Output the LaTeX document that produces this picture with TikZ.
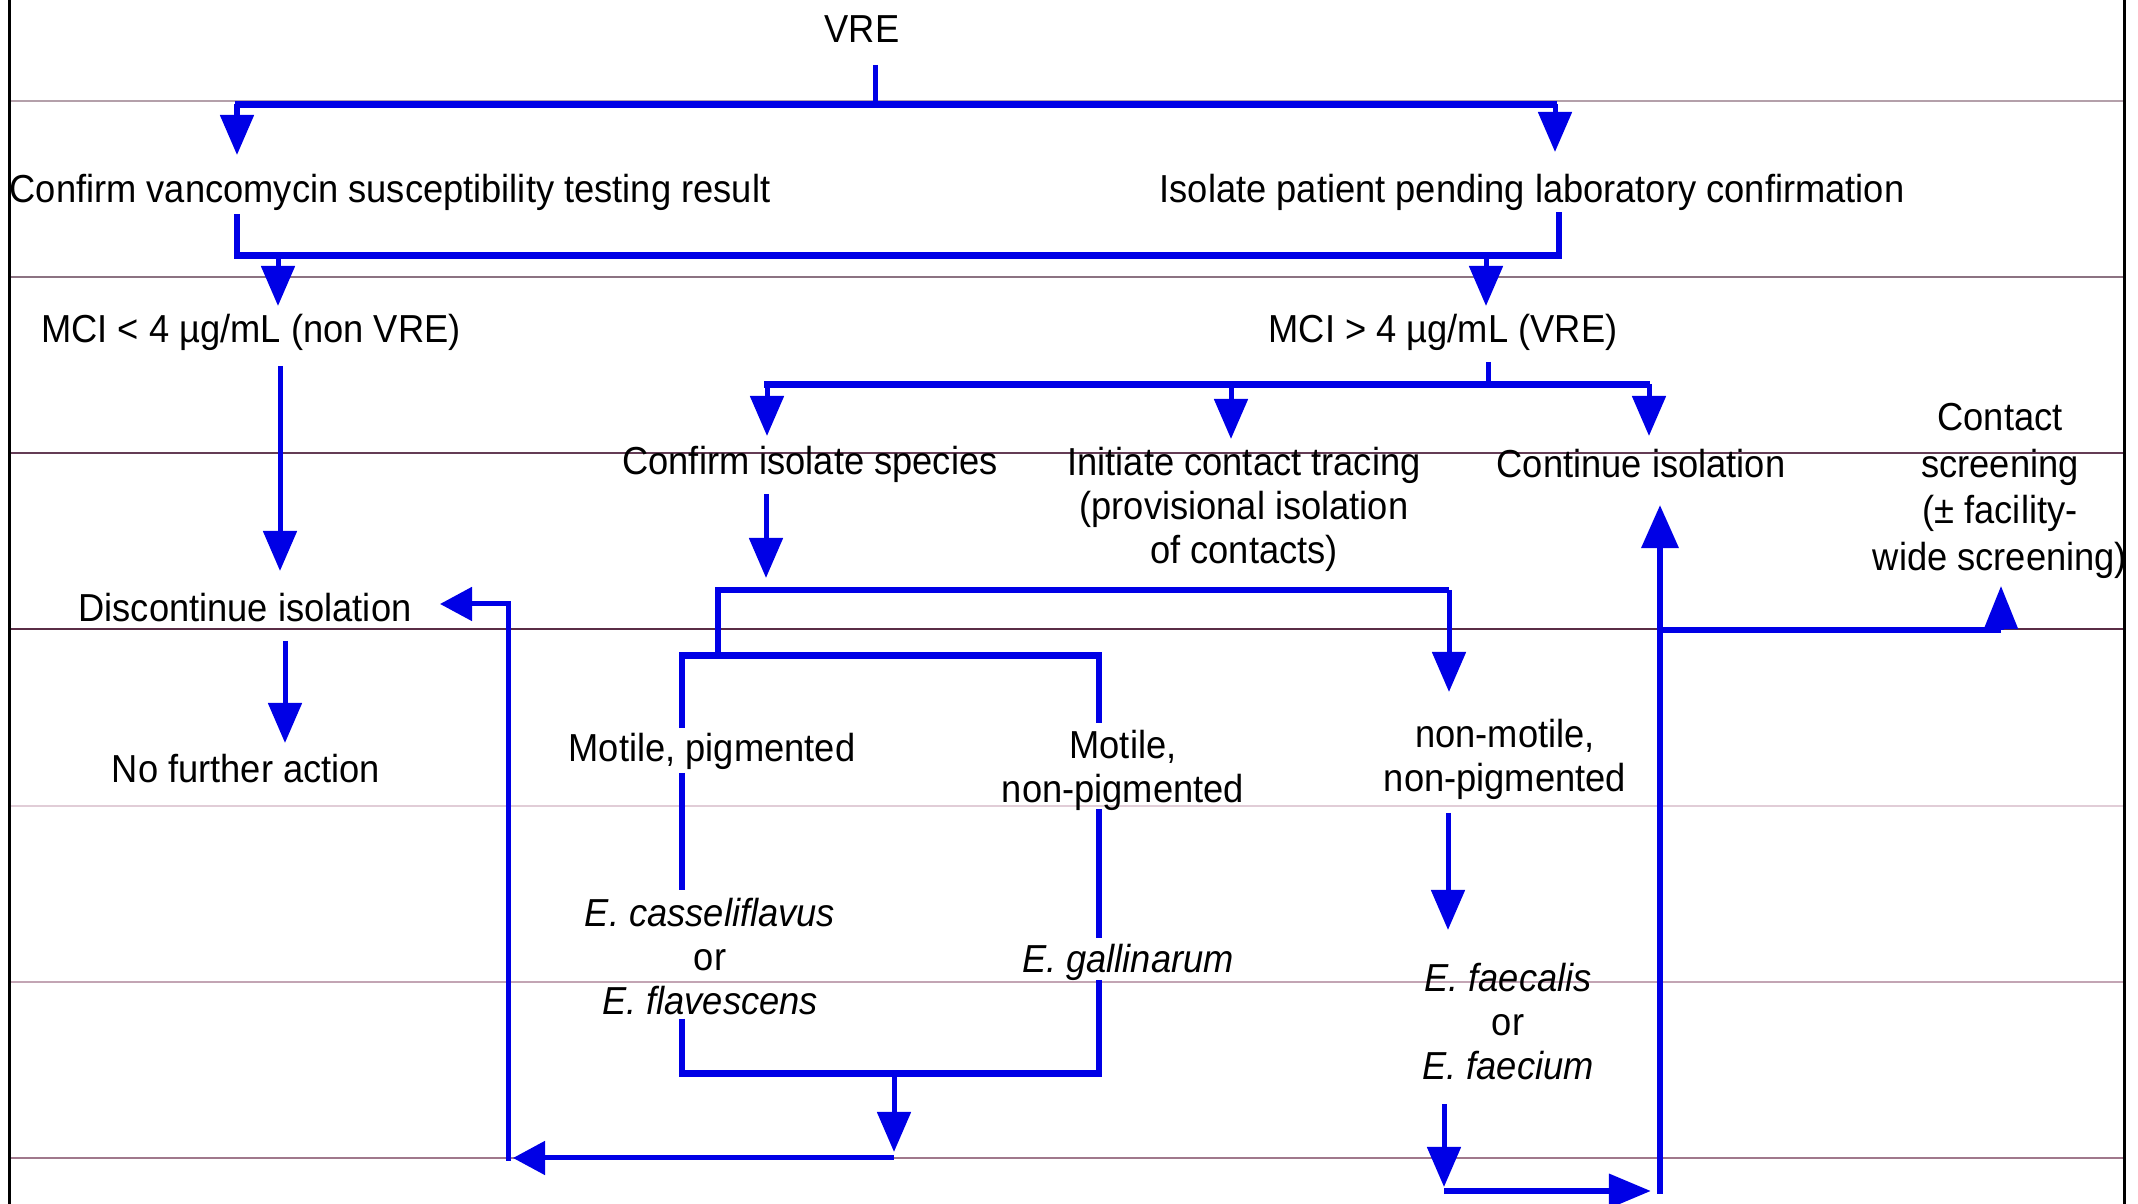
\documentclass[tikz,border=0pt]{standalone}
\usepackage{fontspec}
\setmainfont{Liberation Sans}[FakeStretch=0.93]
\usetikzlibrary{arrows.meta}
\definecolor{vblue}{RGB}{0,0,230}
\definecolor{ga}{RGB}{180,160,170}
\definecolor{gb}{RGB}{140,115,130}
\definecolor{gc}{RGB}{100,60,85}
\definecolor{gd}{RGB}{90,45,70}
\definecolor{ge}{RGB}{225,205,215}
\definecolor{gf}{RGB}{195,165,180}
\definecolor{gg}{RGB}{160,120,140}
\begin{document}
\begin{tikzpicture}[x=0.01cm,y=-0.01cm,
  txt/.style={inner sep=0pt, font=\fontsize{11.1pt}{12.5pt}\selectfont, align=center},
  conn/.style={vblue, line width=0.066cm},
  stem/.style={vblue, line width=0.05cm},
  arr/.style={stem, -{Triangle[length=0.4cm,width=0.33cm]}},
  sarr/.style={stem, -{Triangle[length=0.32cm,width=0.33cm]}},
  rule/.style={line width=0.015cm}]
\useasboundingbox (0,0) rectangle (2138,1204);
% background rules
\foreach \yy/\cc in {101/ga,277/gb,453/gc,629/gd,806/ge,982/gf,1158/gg}
  \draw[rule,\cc] (10,\yy) -- (2124,\yy);
% frame
\draw[black, line width=0.03cm] (9.5,0) -- (9.5,1204);
\draw[black, line width=0.03cm] (2124,0) -- (2124,1204);

% texts
\node[txt, anchor=base] (vre) at (862,43) {VRE};
\node[txt, anchor=base] (confirm) at (390,203) {Confirm vancomycin susceptibility testing result};
\node[txt, anchor=base] (isolate) at (1532,203) {Isolate patient pending laboratory confirmation};
\node[txt, anchor=base] (mcilow) at (251,343) {MCI < 4 µg/mL (non VRE)};
\node[txt, anchor=base] (mcihigh) at (1443,343) {MCI > 4 µg/mL (VRE)};
\node[txt, anchor=base] (species) at (810,475) {Confirm isolate species};
\node[txt] (tracing) at (1244,509) {Initiate contact tracing\\(provisional isolation\\of contacts)};
\node[txt, anchor=base] (contiso) at (1641,478) {Continue isolation};
\node[txt, font=\fontsize{11.1pt}{13.3pt}\selectfont] (screen) at (2000,491) {Contact\\screening\\(± facility-\\wide screening)};
\node[txt, anchor=base] (discont) at (245,622) {Discontinue isolation};
\node[txt, anchor=base] (nofurther) at (246,783) {No further action};
\node[txt, anchor=base] (motpig) at (712,762) {Motile, pigmented};
\node[txt] (motnonpig) at (1123,770) {Motile,\\non-pigmented};
\node[txt] (nonmot) at (1505,759) {non-motile,\\non-pigmented};
\node[txt] (cassel) at (710,957) {\textit{E. casseliflavus}\\or\\\textit{E. flavescens}};
\node[txt, anchor=base] (gall) at (1128,973) {\textit{E. gallinarum}};
\node[txt] (faec) at (1508,1022) {\textit{E. faecalis}\\or\\\textit{E. faecium}};

% named connector points
\coordinate (vreS) at (875,65);
\coordinate (barA) at (875,104.5);
\coordinate (barAL) at (235,104.5);
\coordinate (barAR) at (1557,104.5);
\coordinate (tipConfirm) at (237,155);
\coordinate (tipIsolate) at (1555,152);
\coordinate (confS) at (237,214);
\coordinate (isoS) at (1559,212);
\coordinate (barBL) at (237,255.5);
\coordinate (barBR) at (1559,255.5);
\coordinate (tipLow) at (278,306);
\coordinate (tipHigh) at (1486,306);
\coordinate (highS) at (1488,362);
\coordinate (barC) at (1488,384.5);
\coordinate (barCL) at (764,384.5);
\coordinate (barCR) at (1650,384.5);
\coordinate (tipSpecies) at (767,436);
\coordinate (tipTracing) at (1231,439);
\coordinate (tipCont) at (1649,436);
\coordinate (lowS) at (280,366);
\coordinate (tipDisc) at (280,571);
\coordinate (discS) at (285,641);
\coordinate (tipNoFur) at (285,743);
\coordinate (specS) at (766,494);
\coordinate (tipBar) at (766,578);
\coordinate (barDL) at (718,590);
\coordinate (barDR) at (1449,590);
\coordinate (tipNonMot) at (1449,692);
\coordinate (barEL) at (682,655.5);
\coordinate (barER) at (1099,655.5);
\coordinate (barEM) at (718,655.5);
\coordinate (mpA) at (682,728);
\coordinate (mnA) at (1099,723);
\coordinate (mpB) at (682,773);
\coordinate (mpC) at (682,890);
\coordinate (mpD) at (682,1019);
\coordinate (mnB) at (1099,809);
\coordinate (mnC) at (1099,938);
\coordinate (mnD) at (1099,980);
\coordinate (barFL) at (682,1073.5);
\coordinate (barFR) at (1099,1073.5);
\coordinate (barFM) at (894,1077);
\coordinate (tipF) at (894,1152);
\coordinate (retR) at (894,1158);
\coordinate (retTip) at (513,1158);
\coordinate (retBot) at (508,1161);
\coordinate (retCorner) at (508,604);
\coordinate (tipDiscR) at (440,604);
\coordinate (nmS) at (1448,813);
\coordinate (tipFaec) at (1448,930);
\coordinate (faecS) at (1444,1104);
\coordinate (tipFaecB) at (1444,1187);
\coordinate (gL) at (1444,1191);
\coordinate (gTip) at (1651,1191);
\coordinate (upBot) at (1660,1194);
\coordinate (tipUp) at (1660,505);
\coordinate (scrL) at (1660,630);
\coordinate (scrR) at (2001,630);
\coordinate (tipScr) at (2001,586);

% connectors
\draw[stem] (vreS) -- (barA);
\draw[conn] (barAL) -- (barAR);
\draw[arr] (barAL -| tipConfirm) -- (tipConfirm);
\draw[arr] (barAR -| tipIsolate) -- (tipIsolate);
\draw[conn] (confS) -- (barBL) -- (barBR) -- (isoS);
\draw[arr] (barBL -| tipLow) -- (tipLow);
\draw[arr] (barBL -| tipHigh) -- (tipHigh);
\draw[stem] (highS) -- (barC);
\draw[conn] (barCL) -- (barCR);
\draw[arr] (barCL -| tipSpecies) -- (tipSpecies);
\draw[arr] (barCL -| tipTracing) -- (tipTracing);
\draw[arr] (barCL -| tipCont) -- (tipCont);
\draw[arr] (lowS) -- (tipDisc);
\draw[arr] (discS) -- (tipNoFur);
\draw[arr] (specS) -- (tipBar);
\draw[conn] (barEM) -- (barDL) -- (barDR);
\draw[arr] (barDR) -- (tipNonMot);
\draw[conn] (mpA) -- (barEL) -- (barER) -- (mnA);
\draw[conn] (mpB) -- (mpC);
\draw[conn] (mnB) -- (mnC);
\draw[conn] (mpD) -- (barFL) -- (barFR) -- (mnD);
\draw[arr] (barFM) -- (tipF);
\draw[sarr] (retR) -- (retTip);
\draw[sarr] (retBot) -- (retCorner) -- (tipDiscR);
\draw[arr] (nmS) -- (tipFaec);
\draw[arr] (faecS) -- (tipFaecB);
\draw[conn, -{Triangle[length=0.42cm,width=0.33cm]}] (gL) -- (gTip);
\draw[conn, -{Triangle[length=0.43cm,width=0.36cm]}] (upBot) -- (tipUp);
\draw[conn] (scrL) -- (scrR);
\draw[stem, -{Triangle[length=0.43cm,width=0.33cm]}] (scrR) -- (tipScr);
\end{tikzpicture}
\end{document}
